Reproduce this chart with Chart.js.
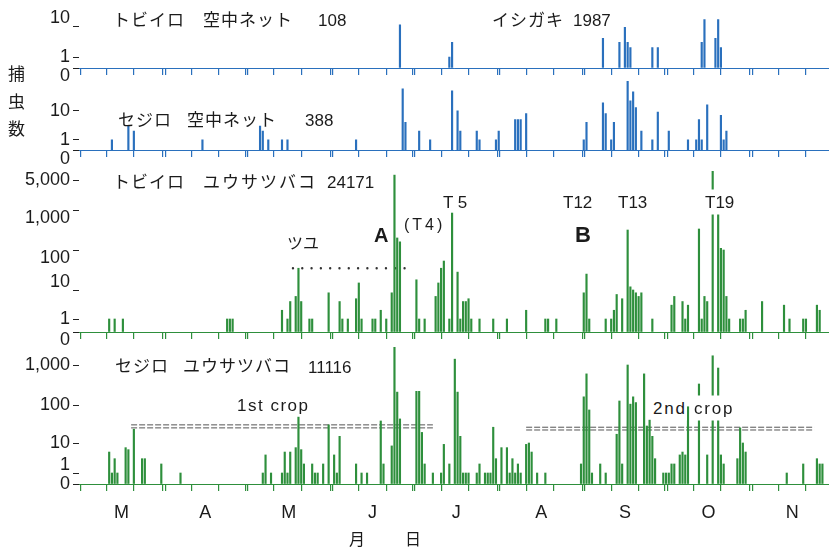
<!DOCTYPE html>
<html lang="ja">
<head>
<meta charset="utf-8">
<title>1987 イシガキ 捕虫数</title>
<script src="https://cdn.jsdelivr.net/npm/chart.js"></script>
<style>
  body { margin: 0; background: #fff; }
  #wrap { position: relative; width: 829px; height: 550px; overflow: hidden;
          font-family: "Liberation Sans", "Noto Sans CJK JP", sans-serif; color: #1b1b1b; }
  #wrap canvas { position: absolute; left: 0; }
  .t { position: absolute; white-space: nowrap; line-height: 1; transform: translateY(-50%); }
  .w { background: #fff; padding: 4px 0; }
  #ylab { position: absolute; left: 8px; top: 61px; font-size: 17px; line-height: 27.5px; }
</style>
</head>
<body>
<div id="wrap">
  <canvas id="p1"></canvas>
  <canvas id="p2"></canvas>
  <canvas id="p3"></canvas>
  <canvas id="p4"></canvas>
  <div id="ylab">捕<br>虫<br>数</div>
</div>
<script>
// 日別の捕虫数, 1987 イシガキ
// x は 3月1日から数えた日数 (0 = 3/1, 31 = 4/1 ...)

const monthStarts = [0, 31, 61, 92, 122, 153, 184, 214, 245, 275];
const monthNames = ['M', 'A', 'M', 'J', 'J', 'A', 'S', 'O', 'N'];

// トビイロ 空中ネット 108
const netBphDays  = [117, 135, 136, 191, 197, 199, 200, 201, 209, 211, 227, 228, 232, 233, 234];
const netBphCatch = [11, 1, 3, 4, 3, 9, 3, 2, 2, 2, 3, 28, 4, 33, 2];

// セジロ 空中ネット 388
const netWbphDays  = [12, 18, 20, 45, 66, 67, 69, 74, 76, 101,
                      118, 119, 124, 128, 136, 138, 139, 145, 146, 152,
                      153, 159, 160, 161, 163, 184, 185, 191, 192, 194,
                      195, 200, 201, 202, 203, 205, 209, 211, 215, 222,
                      225, 226, 227, 229, 234, 235, 236];
const netWbphCatch = [1, 3, 2, 1, 3, 2, 1, 1, 1, 1,
                      57, 4, 2, 1, 49, 10, 2, 2, 1, 1,
                      2, 5, 5, 5, 8, 1, 4, 19, 8, 1,
                      4, 150, 22, 45, 13, 2, 1, 9, 2, 1,
                      1, 5, 1, 16, 7, 1, 2];

// トビイロ ユウサツバコ 24171
const trapBphDays  = [11, 13, 16, 54, 55, 56, 74, 76, 77, 79,
                      80, 81, 84, 85, 91, 95, 96, 98, 101, 102,
                      103, 107, 108, 110, 112, 114, 115, 116, 117, 123,
                      124, 126, 130, 131, 132, 133, 135, 136, 138, 139,
                      140, 141, 142, 143, 146, 151, 156, 163, 170, 171,
                      174, 184, 185, 186, 192, 194, 195, 196, 198, 200,
                      201, 202, 203, 204, 205, 209, 216, 217, 220, 221,
                      222, 226, 227, 228, 229, 231, 233, 234, 235, 236,
                      237, 241, 242, 243, 249, 257, 259, 264, 265, 269,
                      270];
const trapBphCatch = [1, 1, 1, 1, 1, 1, 2, 1, 4, 6,
                      35, 4, 1, 1, 8, 4, 1, 1, 5, 15,
                      1, 1, 1, 2, 1, 8, 6500, 200, 160, 18,
                      1, 1, 6, 15, 35, 53, 1, 840, 28, 1,
                      4, 4, 5, 1, 1, 1, 1, 2, 1, 1,
                      1, 8, 25, 1, 1, 1, 2, 7, 5, 316,
                      12, 10, 8, 6, 8, 1, 3, 6, 4, 1,
                      3, 335, 1, 6, 4, 9500, 840, 110, 100, 6,
                      1, 1, 1, 2, 4, 3, 1, 1, 1, 3,
                      2];

// セジロ ユウサツバコ 11116
const trapWbphDays  = [11, 12, 13, 14, 17, 18, 20, 23, 24, 30,
                       37, 67, 68, 70, 74, 75, 76, 77, 79, 80,
                       81, 82, 85, 86, 87, 89, 91, 93, 94, 95,
                       101, 103, 105, 110, 111, 114, 115, 116, 117, 123,
                       124, 125, 126, 129, 132, 133, 135, 137, 138, 139,
                       140, 141, 142, 145, 146, 148, 149, 150, 151, 152,
                       154, 156, 157, 158, 159, 160, 161, 163, 164, 165,
                       167, 170, 183, 184, 185, 186, 187, 190, 192, 196,
                       197, 198, 200, 201, 202, 203, 206, 207, 208, 209,
                       210, 213, 214, 215, 216, 217, 219, 220, 221, 222,
                       226, 229, 231, 233, 234, 235, 240, 241, 242, 243,
                       258, 264, 269, 270, 271];
const trapWbphCatch = [5, 1, 3, 1, 7, 6, 23, 3, 3, 2,
                       1, 1, 4, 1, 1, 5, 1, 5, 7, 48,
                       6, 2, 2, 1, 1, 2, 30, 4, 1, 15,
                       2, 1, 1, 38, 2, 8, 3100, 210, 43, 220,
                       220, 19, 2, 1, 1, 9, 2, 1400, 210, 15,
                       1, 1, 1, 1, 2, 1, 1, 1, 26, 3,
                       7, 7, 1, 3, 1, 2, 1, 9, 10, 5,
                       1, 1, 2, 160, 600, 74, 1, 2, 1, 17,
                       126, 2, 1000, 105, 160, 115, 600, 28, 40, 15,
                       3, 1, 1, 1, 2, 2, 4, 5, 4, 90,
                       335, 4, 1700, 840, 4, 2, 3, 25, 10, 5,
                       1, 2, 3, 2, 2];

// 縦軸の目盛
const yTicksNet      = [0, 1, 10];
const yTicksTrapBph  = [0, 1, 10, 100, 1000, 5000];
const yTicksTrapWbph = [0, 1, 10, 100, 1000];

// ツユ の期間 と 1st / 2nd crop の期間 (日数)
const rainySeason = [78, 120];
const crop1 = [19, 129];
const crop2 = [163, 268];

const xMax = 273.4;
const blue = '#2a70bd', green = '#2e8f3c';

// 非線形の縦軸: 0 と 1 の間を詰めた対数目盛. 目盛の位置はパネルごとに px で指定
const panels = [
  { id: 'p1', days: netBphDays, catches: netBphCatch, color: blue, ticks: yTicksNet,
    tickPx: [0, 11, 42], nudge: [1, 0, -1], top: 0, height: 90, base: 68 },
  { id: 'p2', days: netWbphDays, catches: netWbphCatch, color: blue, ticks: yTicksNet,
    tickPx: [0, 11, 40], nudge: [1, 0, 0], top: 70, height: 100, base: 155 },
  { id: 'p3', days: trapBphDays, catches: trapBphCatch, color: green, ticks: yTicksTrapBph,
    tickPx: [0, 13, 42, 82, 122, 152], nudge: [1, 0, -1, 1, 1, 0], top: 160, height: 195, base: 332 },
  { id: 'p4', days: trapWbphDays, catches: trapWbphCatch, color: green, ticks: yTicksTrapWbph,
    tickPx: [0, 11, 41, 79, 119], nudge: [0, -1, 0, 0, 0], top: 336, height: 214, base: 484, months: true }
];
const panelById = {};
panels.forEach(p => panelById[p.id] = p);

function offsetFor(v, vals, px) {
  if (!(v > 0)) return 0;
  if (v <= 1) return v * px[1];
  const L = Math.log10(v);
  for (let i = 2; i < vals.length; i++) {
    if (v <= vals[i] || i === vals.length - 1) {
      const a = Math.log10(vals[i - 1]), b = Math.log10(vals[i]);
      return px[i - 1] + (L - a) / (b - a) * (px[i] - px[i - 1]);
    }
  }
  return 0;
}

class CatchScale extends Chart.LinearScale {
  getPixelForValue(v) {
    const p = panelById[this.chart.canvas.id];
    return this.bottom - offsetFor(v, p.ticks, p.tickPx);
  }
}
CatchScale.id = 'catch';
CatchScale.defaults = {};
Chart.register(CatchScale);

// 上旬・中旬・下旬の目盛 (月初めは二重線)
const dayTicks = [];
monthStarts.slice(0, 9).forEach(m => {
  if (m === 0) dayTicks.push(0.6); else dayTicks.push(m - 0.4, m + 0.4);
  dayTicks.push(m + 10, m + 20);
});
const monthMid = monthNames.map((_, i) => (monthStarts[i] + monthStarts[i + 1]) / 2);

const guide = (days, level, color, width, dash, cap) => ({
  type: 'line', data: days.map(d => ({ x: d, y: level })),
  borderColor: color, borderWidth: width, borderDash: dash, borderCapStyle: cap || 'butt',
  pointRadius: 0, fill: false, xAxisID: 'x', yAxisID: 'y'
});
panelById.p3.extra = [guide(rainySeason, 35, '#333', 2.4, [0, 9.3], 'round')];
panelById.p4.extra = [
  guide(crop1, 30, '#555', 1, [6, 2]), guide(crop1, 25, '#555', 1, [6, 2]),
  guide(crop2, 26, '#555', 1, [6, 2]), guide(crop2, 22, '#555', 1, [6, 2])
];

Chart.defaults.font.family = '"Liberation Sans", "Noto Sans CJK JP", sans-serif';
Chart.defaults.color = '#1b1b1b';

panels.forEach(p => {
  const cv = document.getElementById(p.id);
  cv.style.top = p.top + 'px';
  cv.width = 829;
  cv.height = p.height;
  let padBottom = p.height - (p.base - p.top);

  const scales = {
    x: {
      type: 'linear', min: 0, max: xMax, offset: false, position: { y: 0 },
      border: { display: true, color: p.color, width: 1 },
      grid: { display: true, offset: false, drawOnChartArea: false, drawTicks: true,
              tickLength: 6, color: p.color, lineWidth: 1.2 },
      ticks: { display: false },
      afterBuildTicks: s => { s.ticks = dayTicks.map(v => ({ value: v })); }
    },
    y: {
      type: 'catch', position: 'left', min: 0, max: 10000,
      border: { display: false },
      grid: { display: true, drawOnChartArea: false, drawTicks: true, tickLength: 6,
              color: '#222', lineWidth: 1 },
      ticks: {
        autoSkip: false, padding: 3, font: { size: 18, lineHeight: 0.9 },
        callback: (v, i) => {
          const s = v.toLocaleString('en-US');
          return p.nudge[i] > 0 ? ['', s] : p.nudge[i] < 0 ? [s, ''] : s;
        }
      },
      afterBuildTicks: s => { s.ticks = p.ticks.map(v => ({ value: v })); },
      afterFit: s => { s.width = 79; }
    }
  };
  if (p.months) {
    scales.m = {
      type: 'linear', axis: 'x', position: 'bottom', min: 0, max: xMax, offset: false,
      grid: { display: false, drawTicks: false }, border: { display: false },
      ticks: { autoSkip: false, maxRotation: 0, padding: 18, font: { size: 18 },
               callback: (v, i) => monthNames[i] },
      afterBuildTicks: s => { s.ticks = monthMid.map(v => ({ value: v })); },
      afterFit: s => { s.height = 40; }
    };
    padBottom -= 40;
  }

  const bars = {
    type: 'bar',
    data: p.days.map((d, i) => ({ x: d, y: p.catches[i] })),
    backgroundColor: p.color, borderWidth: 0, barThickness: 1.5, grouped: false,
    xAxisID: 'x', yAxisID: 'y'
  };

  new Chart(cv, {
    type: 'bar',
    data: { datasets: [bars].concat(p.extra || []) },
    options: {
      responsive: false, animation: false, events: [],
      layout: { padding: { top: 0, right: 0, left: 0, bottom: padBottom } },
      plugins: { legend: { display: false }, tooltip: { enabled: false } },
      scales
    }
  });
});

// 文字
const texts = [
  ['トビイロ', 113, 20, 17, 'letter-spacing:1px'], ['空中ネット', 203, 20, 17, 'letter-spacing:1px'],
  ['108', 318, 20, 17], ['イシガキ', 492, 20, 17, 'letter-spacing:1px'], ['1987', 573, 20, 17],
  ['セジロ', 118, 120, 17, 'letter-spacing:1px'], ['空中ネット', 187, 120, 17, 'letter-spacing:1px'],
  ['388', 305, 120, 17],
  ['トビイロ', 113, 182, 17, 'letter-spacing:1px'], ['ユウサツバコ', 203, 182, 17, 'letter-spacing:2px'],
  ['24171', 327, 182, 17],
  ['セジロ', 115, 366, 17, 'letter-spacing:1px'], ['ユウサツバコ', 183, 366, 17, 'letter-spacing:1px'],
  ['11116', 308, 367, 17],
  ['ツユ', 287, 244, 16],
  ['A', 374, 235, 20, 'font-weight:bold'],
  ['(T4)', 404, 225, 16, 'letter-spacing:3px'],
  ['T 5', 443, 202, 17],
  ['T12', 563, 202, 17],
  ['B', 575, 235, 22, 'font-weight:bold'],
  ['T13', 618, 202, 17],
  ['T19', 705, 202, 17, '', 'w'],
  ['1st crop', 237, 405, 17, 'letter-spacing:1.5px'],
  ['2nd', 653, 408, 17, 'letter-spacing:1.8px', 'w'],
  ['crop', 694, 408, 17, 'letter-spacing:1.8px', 'w'],
  ['月', 349, 540, 16],
  ['日', 405, 540, 16]
];
const wrap = document.getElementById('wrap');
texts.forEach(([s, x, y, size, css, cls]) => {
  const d = document.createElement('div');
  d.className = 't' + (cls ? ' ' + cls : '');
  d.textContent = s;
  d.style.cssText = `left:${x}px;top:${y}px;font-size:${size}px;` + (css || '');
  wrap.appendChild(d);
});
</script>
</body>
</html>
